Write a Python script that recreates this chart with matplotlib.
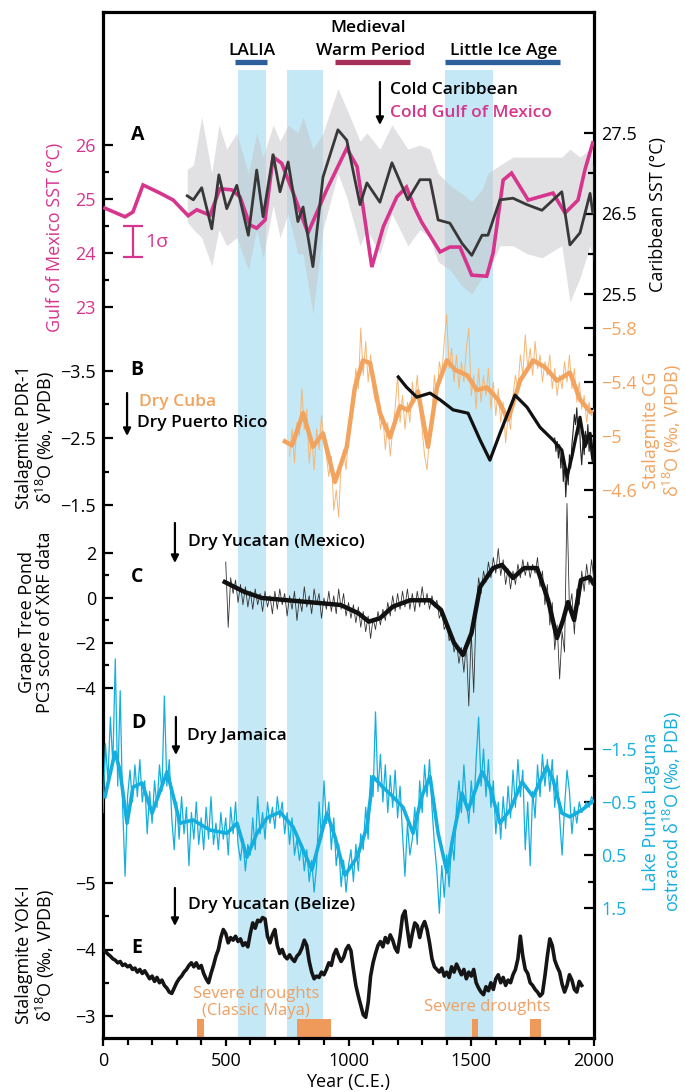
import numpy as np
import matplotlib
matplotlib.use('Agg')
import matplotlib.pyplot as plt

plt.rcParams['font.family'] = ['Open Sans', 'DejaVu Sans']
plt.rcParams['mathtext.fontset'] = 'custom'
plt.rcParams['mathtext.rm'] = 'Open Sans'

# shaded intervals, named periods and drought episodes (years C.E.)
bands = [(550, 665), (750, 895), (1395, 1590)]
periods = ['LALIA', 'Medieval\nWarm Period', 'Little Ice Age']
period_spans = [(538, 668), (945, 1250), (1393, 1862)]
period_colors = ['#2d5f9c', '#a5315a', '#2d5f9c']
droughts = [(381, 412), (790, 927), (1502, 1528), (1738, 1786)]

# A: Gulf of Mexico SST and Caribbean SST
gom_years = [8, 90, 122, 163, 232, 286, 347, 382, 436, 476, 524, 558, 598, 626, 660, 693, 728, 775, 835, 911,
             993, 1035, 1095, 1142, 1197, 1236, 1270, 1298, 1373, 1413, 1454, 1502, 1563, 1589, 1630, 1664,
             1732, 1833, 1882, 1935, 1963, 1995]
gom_sst = [24.83, 24.67, 24.76, 25.26, 25.11, 24.98, 24.69, 24.80, 24.70, 25.19, 25.17, 25.04, 24.52, 24.46,
           24.61, 25.78, 25.66, 25.11, 24.37, 25.17, 25.94, 25.60, 23.74, 24.49, 25.04, 25.22, 24.83, 24.57,
           24.02, 24.11, 24.11, 23.59, 23.57, 24.00, 25.35, 25.48, 24.98, 25.11, 24.74, 24.98, 25.54, 26.04]
car_years = [343, 368, 402, 443, 472, 504, 545, 592, 626, 652, 693, 721, 754, 794, 815, 855, 896, 957, 993,
             1047, 1075, 1128, 1177, 1242, 1291, 1332, 1365, 1413, 1462, 1502, 1544, 1568, 1617, 1670, 1727,
             1788, 1869, 1902, 1943, 1984, 1995]
car_sst = [26.72, 26.67, 26.82, 26.31, 26.98, 26.56, 26.85, 26.23, 27.04, 26.46, 27.23, 26.77, 27.14, 26.40,
           26.58, 25.84, 26.95, 27.54, 27.41, 26.61, 26.88, 26.64, 27.13, 26.67, 26.92, 26.92, 26.42, 26.38,
           26.13, 25.98, 26.23, 26.23, 26.67, 26.69, 26.61, 26.54, 26.77, 26.11, 26.26, 26.75, 26.51]
car_hi = [27.05, 27.1, 27.7, 27.0, 27.6, 27.3, 27.5, 27.0, 27.5, 27.2, 27.6, 27.4, 27.6, 27.5, 27.7, 27.3,
          27.5, 28.05, 27.8, 27.4, 27.5, 27.3, 27.6, 27.3, 27.35, 27.3, 27.0, 26.85, 26.75, 26.65, 26.8, 27.0,
          27.1, 27.2, 27.2, 27.2, 27.2, 27.3, 27.2, 27.3, 27.1]
car_lo = [26.4, 26.3, 26.2, 25.85, 26.3, 26.1, 26.2, 25.8, 26.3, 25.95, 26.6, 26.2, 26.5, 26.0, 26.0, 25.25,
          26.3, 27.0, 26.7, 26.1, 26.3, 26.0, 26.5, 26.1, 26.3, 26.2, 25.9, 25.8, 25.6, 25.5, 25.7, 25.75,
          26.1, 26.1, 26.0, 25.95, 26.1, 25.4, 25.7, 26.1, 25.9]

# B: Cuba (CG) and Puerto Rico (PDR-1) stalagmites
cg_years = [741, 770, 815, 855, 896, 945, 993, 1026, 1059, 1088, 1128, 1169, 1210, 1242, 1283, 1324, 1360,
            1401, 1434, 1483, 1523, 1564, 1609, 1650, 1699, 1752, 1800, 1849, 1902, 1943, 1984]
cg_smooth = [-4.96, -4.93, -5.17, -4.92, -5.02, -4.66, -4.92, -5.36, -5.56, -5.54, -5.17, -4.99, -5.22,
             -5.19, -5.33, -4.92, -5.36, -5.56, -5.49, -5.45, -5.34, -5.36, -5.27, -5.12, -5.41, -5.56,
             -5.51, -5.41, -5.47, -5.27, -5.18]
cg_start = 760
cg_raw = [-4.85, -5.05, -4.80, -5.10, -5.00, -5.35, -5.05, -5.20, -4.80, -5.00, -4.75, -5.05, -4.90, -5.15,
          -4.95, -4.85, -4.70, -4.85, -4.45, -4.60, -4.40, -4.80, -4.90, -4.75, -5.00, -5.15, -5.30, -5.50,
          -5.35, -5.80, -5.45, -5.70, -5.40, -5.60, -5.35, -5.25, -5.30, -5.05, -5.15, -4.90, -5.10, -4.85,
          -5.05, -5.20, -5.45, -5.10, -5.30, -5.05, -5.25, -5.10, -5.40, -5.25, -5.45, -5.20, -5.05, -4.85,
          -4.75, -5.00, -5.15, -5.45, -5.25, -5.55, -5.45, -5.70, -5.90, -5.50, -5.65, -5.40, -5.60, -5.35,
          -5.55, -5.40, -5.65, -5.80, -5.30, -5.45, -5.20, -5.50, -5.25, -5.45, -5.30, -5.50, -5.20, -5.40,
          -5.15, -5.35, -5.10, -5.25, -4.95, -5.15, -5.05, -5.30, -5.45, -5.35, -5.60, -5.45, -5.75, -5.50,
          -5.65, -5.45, -5.70, -5.50, -5.60, -5.40, -5.55, -5.45, -5.60, -5.35, -5.50, -5.30, -5.45, -5.35,
          -5.55, -5.40, -5.60, -5.35, -5.50, -5.25, -5.40, -5.20, -5.30, -5.10, -5.25, -5.15, -5.20]
pdr_years = [1203, 1236, 1278, 1332, 1373, 1426, 1487, 1536, 1576, 1617, 1678, 1727, 1780, 1833, 1869, 1890,
             1910, 1943, 1963, 1984, 1996]
pdr_smooth = [-3.41, -3.26, -3.11, -3.17, -3.07, -2.92, -2.87, -2.47, -2.17, -2.57, -3.14, -2.96, -2.66,
              -2.47, -2.32, -1.92, -2.22, -2.81, -2.37, -2.57, -2.17]
pdr_start = 1840
pdr_raw = [-2.50, -2.30, -2.45, -2.20, -2.40, -2.05, -2.30, -1.85, -2.15, -1.62, -2.00, -1.80, -2.25, -2.05,
           -2.40, -2.60, -2.85, -2.70, -2.95, -2.55, -2.80, -2.35, -2.10, -2.45, -2.25, -2.60, -2.40, -2.70,
           -2.30, -2.50, -2.20, -2.35, -2.15]

# C: Grape Tree Pond PC3
c_years = [496, 576, 648, 825, 968, 1039, 1083, 1128, 1181, 1251, 1332, 1377, 1430, 1466, 1501, 1536, 1589,
           1625, 1670, 1715, 1768, 1813, 1849, 1874, 1894, 1919, 1947, 1982, 1996]
c_smooth = [0.71, 0.27, 0.0, -0.17, -0.31, -0.67, -1.05, -0.9, -0.38, -0.1, -0.1, -0.53, -2.0, -2.53, -1.56,
            0.49, 1.33, 1.47, 0.89, 1.33, 1.33, -0.09, -1.78, -0.98, -0.18, -0.98, 0.8, 0.93, 0.67]
c_start = 500
c_raw = [1.6, -1.3, 0.9, 0.2, 0.8, -0.2, 0.6, -0.3, 0.5, -0.4, 0.3, -0.5, 0.4, -0.3, 0.2, -0.6, 0.3, -0.4,
         0.1, -0.7, 0.3, -0.5, 0.4, -0.3, 0.2, -0.8, 0.1, -0.5, 0.3, -1.0, 0.0, -0.6, 0.5, -0.4, 0.1, -0.7,
         0.4, -0.3, 0.2, -0.9, 0.0, -0.5, 0.3, -0.6, 0.1, -0.7, 0.4, -0.5, 0.2, -0.8, -0.2, -0.9, -0.3, -1.1,
         -0.4, -1.3, -0.6, -1.5, -0.8, -1.8, -0.9, -1.4, -0.6, -1.2, -0.5, -1.0, -0.2, -0.8, 0.1, -0.6, 0.2,
         -0.5, 0.3, -0.4, 0.4, -0.5, 0.2, -0.6, 0.3, -0.4, 0.5, -0.3, 0.2, -0.5, 0.1, -0.4, -0.1, -0.9, -0.6,
         -1.4, -1.1, -1.9, -1.6, -2.4, -2.0, -2.9, -2.2, -3.3, -2.0, -4.8, -1.5, -4.2, -0.5, 0.9, 0.2, 1.2,
         0.7, 1.6, 0.9, 1.8, 1.1, 2.2, 1.0, 1.7, 0.6, 1.3, 0.4, 1.2, 0.6, 1.5, 0.9, 1.7, 1.0, 1.6, 0.9, 1.5,
         1.1, 1.8, 0.5, 1.2, -0.3, 0.6, -1.2, -0.2, -2.3, -1.2, -3.6, -1.5, -2.4, 4.2, -0.5, 0.2, -1.6, 0.4,
         -0.3, 1.2, 0.3, 1.5, 0.6, 1.7, 0.8]

# D: Lake Punta Laguna ostracods
d_years = [8, 49, 69, 98, 122, 159, 200, 261, 314, 367, 436, 505, 546, 586, 627, 668, 721, 774, 851, 912,
           945, 986, 1035, 1075, 1100, 1140, 1181, 1222, 1263, 1298, 1332, 1365, 1401, 1426, 1462, 1487, 1544,
           1576, 1617, 1658, 1707, 1752, 1808, 1833, 1869, 1902, 1951, 1992]
d_smooth = [-0.6, -1.44, -1.1, -0.1, -0.78, -0.86, -0.29, -1.07, -0.1, -0.16, 0.03, 0.09, -0.1, 0.54, 0.09,
            -0.2, -0.31, -0.03, 0.78, -0.29, 0.16, 0.88, 0.54, -0.03, -0.98, -0.78, -0.6, -0.4, 0.09, -0.6,
            -0.98, 0.09, 0.82, 0.16, -0.67, -0.35, -1.07, -0.78, -0.1, -0.35, -0.88, -0.6, -1.17, -0.92,
            -0.29, -0.22, -0.35, -0.5]
d_start = 0
d_raw = [-0.3, -1.6, -0.9, -2.1, -1.2, -3.2, -0.8, -2.6, -0.4, 0.9, -0.6, -1.1, -0.5, -1.2, -0.6, -1.3,
         -0.5, -0.9, 0.1, -0.7, -0.1, -0.9, -0.4, -1.2, -0.7, -2.5, -0.8, -1.3, -0.2, 0.4, -0.5, 0.2, -0.6,
         0.1, -0.4, 0.7, -0.3, 0.2, -0.5, 0.3, -0.2, 0.4, -0.4, 0.2, -0.6, 0.3, -0.1, 0.4, -0.3, 0.2, -0.2,
         0.5, -0.4, 0.1, -0.5, 0.3, 0.6, 0.2, 0.8, 0.3, 0.5, -0.2, 0.4, -0.6, 0.1, -0.3, 0.2, -0.5, -0.1,
         -0.4, 0.0, -0.6, -0.2, -0.5, 0.1, -0.3, 0.3, -0.2, 0.5, 0.2, 0.6, 0.3, 0.8, 0.4, 1.0, 0.6, 1.2, 0.7,
         -0.5, 0.2, -0.9, -0.1, -0.5, 0.4, -0.2, 0.7, 0.3, 1.1, 0.6, 1.2, 0.7, 0.4, 1.0, 0.3, 0.8, 0.1, 0.4,
         -0.4, 0.2, -1.0, -0.6, -2.2, -0.7, -1.4, -0.5, -1.2, -0.3, -1.0, -0.4, -1.1, -0.2, -0.8, 0.1, 0.9,
         -0.1, 0.5, 0.2, -0.4, 0.3, -0.9, -0.3, -1.2, -0.6, -1.3, -0.4, 0.3, 0.8, 1.6, 0.7, 1.3, 0.5, 1.1,
         0.2, 0.6, -0.4, -0.9, -0.3, -1.2, -0.5, -0.1, -0.9, -0.3, -1.3, -2.1, -0.8, -1.5, -0.6, -1.3, -0.4,
         -0.9, 0.1, -0.5, 0.2, -0.6, 0.0, -0.8, -0.2, -1.1, -0.4, -1.3, -0.6, -1.1, 0.4, -0.5, 0.7, -0.7,
         -0.2, -1.2, -0.6, -1.4, -0.8, -1.3, -0.7, -1.3, -0.4, -1.0, -0.2, 0.5, -0.4, -1.1, -0.7, 0.1, -0.4,
         -0.1, -0.5, -0.3, -0.4, -0.5, -0.4, -0.6, -0.5]

# E: Belize stalagmite YOK-I
e_start = 0
e_vals = [-4.00, -3.97, -3.93, -3.90, -3.86, -3.84, -3.80, -3.82, -3.76, -3.78, -3.74, -3.76, -3.70, -3.72,
          -3.66, -3.70, -3.64, -3.68, -3.62, -3.56, -3.60, -3.52, -3.58, -3.50, -3.54, -3.46, -3.42, -3.36,
          -3.34, -3.42, -3.50, -3.56, -3.60, -3.66, -3.70, -3.76, -3.80, -3.74, -3.80, -3.72, -3.76, -3.64,
          -3.56, -3.50, -3.64, -3.76, -3.90, -4.00, -4.18, -4.30, -4.24, -4.10, -4.18, -4.14, -4.20, -4.12,
          -4.16, -4.06, -4.10, -4.04, -4.24, -4.40, -4.32, -4.44, -4.42, -4.48, -4.46, -4.20, -4.10, -4.22,
          -4.30, -4.06, -3.94, -4.00, -3.90, -3.86, -3.92, -3.86, -3.82, -3.90, -3.94, -4.02, -4.14, -4.06,
          -3.82, -3.66, -3.56, -3.60, -3.58, -3.66, -3.62, -3.70, -3.80, -3.76, -3.92, -4.00, -3.90, -3.82,
          -3.88, -4.00, -4.06, -3.98, -3.70, -3.46, -3.30, -3.16, -3.02, -2.98, -3.20, -3.60, -3.80, -3.94,
          -4.06, -4.12, -4.04, -4.18, -4.10, -4.22, -4.14, -4.02, -3.96, -4.20, -4.50, -4.58, -4.30, -4.04,
          -4.24, -4.40, -4.36, -4.18, -4.34, -4.42, -4.30, -4.10, -3.86, -3.74, -3.70, -3.66, -3.72, -3.60,
          -3.66, -3.58, -3.74, -3.66, -3.78, -3.70, -3.62, -3.70, -3.56, -3.66, -3.60, -3.70, -3.50, -3.42,
          -3.36, -3.32, -3.44, -3.38, -3.50, -3.40, -3.56, -3.62, -3.50, -3.58, -3.46, -3.54, -3.50, -3.62,
          -3.70, -3.86, -4.20, -3.90, -3.70, -3.64, -3.50, -3.46, -3.40, -3.36, -3.30, -3.34, -3.60, -3.90,
          -4.16, -4.06, -3.84, -3.74, -3.66, -3.48, -3.36, -3.46, -3.62, -3.54, -3.40, -3.36, -3.52, -3.46]

# tick values and labels of each panel axis
gom_ticks, gom_labels, gom_minor = [23, 24, 25, 26], ['23', '24', '25', '26'], [23.5, 24.5, 25.5]
car_ticks, car_labels, car_minor = [25.5, 26.5, 27.5], ['25.5', '26.5', '27.5'], [26, 27]
pdr_ticks, pdr_labels, pdr_minor = [-3.5, -2.5, -1.5], ['\u22123.5', '\u22122.5', '\u22121.5'], [-3, -2]
cg_ticks = [-5.8, -5.4, -5.0, -4.6]
cg_labels = ['\u22125.8', '\u22125.4', '\u22125', '\u22124.6']
cg_minor = [-5.6, -5.2, -4.8, -4.4]
c_ticks, c_labels, c_minor = [2, 0, -2, -4], ['2', '0', '\u22122', '\u22124'], [1, -1, -3]
d_ticks, d_labels, d_minor = [-1.5, -0.5, 0.5, 1.5], ['\u22121.5', '\u22120.5', '0.5', '1.5'], [-1, 0, 1]
e_ticks, e_labels, e_minor = [-5, -4, -3], ['\u22125', '\u22124', '\u22123'], [-4.5, -3.5]

PINK = '#d7358d'
DARK = '#383838'
ORANGE = '#f2a35e'
CYAN = '#14aedf'
BLUE_BAND = '#c4e8f5'

# layout in pixels of the 685x1092 canvas
W, H = 685, 1092
L, R, T, B = 103, 594, 12, 1038
rect = [L / W, 1 - B / H, (R - L) / W, (B - T) / H]

fig = plt.figure(figsize=(W / 100, H / 100), dpi=100)
ax = fig.add_axes(rect, zorder=0)
ax.set_xlim(0, 2000)
ax.set_ylim(B, T)  # base axes works in pixel rows
for sp in ax.spines.values():
    sp.set_linewidth(2.3)
ax.set_xticks([0, 500, 1000, 1500, 2000])
ax.set_xticks(np.arange(0, 2001, 100), minor=True)
ax.tick_params(axis='x', which='both', direction='out', width=1.6, labelsize=13, pad=4)
ax.tick_params(axis='x', which='major', length=6)
ax.tick_params(axis='x', which='minor', length=5)
ax.tick_params(axis='y', which='both', left=False, labelleft=False)
ax.set_xlabel('Year (C.E.)', fontsize=13, labelpad=2)

for a0, a1 in bands:
    ax.axvspan(a0, a1, ymin=0, ymax=(B - 70) / (B - T), color=BLUE_BAND, lw=0)
for (a0, a1), c in zip(period_spans, period_colors):
    ax.hlines(62, a0, a1, colors=c, lw=3.8)
ax.bar([d[0] for d in droughts], 19, width=[d[1] - d[0] for d in droughts], bottom=B - 19,
       align='edge', color='#ef9a5a', lw=0)


def panel(z, side, ref, ticks, labels, minor, color):
    a = fig.add_axes(rect, sharex=ax, zorder=z)
    a.patch.set_visible(False)
    for sp in a.spines.values():
        sp.set_visible(False)
    (v1, p1), (v2, p2) = ref
    s = (p2 - p1) / (v2 - v1)
    a.set_ylim(v1 + (B - p1) / s, v1 + (T - p1) / s)
    a.yaxis.set_ticks_position(side)
    if ticks:
        a.set_yticks(ticks, labels=labels)
        a.set_yticks(minor, minor=True)
    else:
        a.set_yticks([])
    a.tick_params(axis='y', which='both', direction='in', width=1.6, color='k',
                  labelcolor=color, labelsize=13, pad=5)
    a.tick_params(axis='y', which='major', length=7)
    a.tick_params(axis='y', which='minor', length=4.5)
    a.tick_params(axis='x', which='both', bottom=False, top=False, labelbottom=False)
    return a


car_ref = ((27.5, 133), (25.5, 294))
ax_env = panel(1, 'right', car_ref, [], [], [], 'k')
ax_env.fill_between(car_years, car_lo, car_hi, color='#c4c4c8', alpha=0.5, lw=0)

ax_gom = panel(2, 'left', ((26, 145), (23, 307)), gom_ticks, gom_labels, gom_minor, PINK)
ax_gom.plot(gom_years, gom_sst, color=PINK, lw=2.6, solid_joinstyle='miter')
ax_gom.vlines(122, 23.93, 24.5, colors=PINK, lw=1.6)
ax_gom.hlines([23.93, 24.5], 81, 163, colors=PINK, lw=1.6)
ax_gom.text(172, 24.2, '1\u03c3', color=PINK, fontsize=14, va='center', ha='left')

ax_car = panel(3, 'right', car_ref, car_ticks, car_labels, car_minor, 'k')
ax_car.plot(car_years, car_sst, color=DARK, lw=2.0)

ax_cg = panel(4, 'right', ((-5.8, 328), (-4.6, 490)), cg_ticks, cg_labels, cg_minor, ORANGE)
cg_raw_years = cg_start + 10 * np.arange(len(cg_raw))
ax_cg.plot(cg_raw_years, cg_raw, color='#f5b676', lw=0.7)
ax_cg.plot(cg_years, cg_smooth, color=ORANGE, lw=3.2)

ax_pdr = panel(5, 'left', ((-3.5, 371), (-1.5, 505)), pdr_ticks, pdr_labels, pdr_minor, 'k')
pdr_raw_years = pdr_start + 5 * np.arange(len(pdr_raw))
ax_pdr.plot(pdr_raw_years, pdr_raw, color='#222222', lw=0.8)
ax_pdr.plot(pdr_years, pdr_smooth, color='#111111', lw=2.3)

ax_c = panel(6, 'left', ((2, 553), (-4, 688)), c_ticks, c_labels, c_minor, 'k')
c_raw_years = c_start + 10 * np.arange(len(c_raw))
ax_c.plot(c_raw_years, c_raw, color='#333333', lw=0.6)
ax_c.plot(c_years, c_smooth, color='#111111', lw=3.2)

ax_d = panel(7, 'right', ((-1.5, 749), (1.5, 908)), d_ticks, d_labels, d_minor, CYAN)
d_raw_years = d_start + 10 * np.arange(len(d_raw))
ax_d.plot(d_raw_years, d_raw, color=CYAN, lw=0.9)
ax_d.plot(d_years, d_smooth, color=CYAN, lw=2.6)

ax_e = panel(8, 'left', ((-5, 883), (-3, 1016)), e_ticks, e_labels, e_minor, 'k')
e_years = e_start + 10 * np.arange(len(e_vals))
ax_e.plot(e_years, e_vals, color='#151515', lw=2.6)

# annotations, placed on a top layer working in (year, pixel row)
top = fig.add_axes(rect, sharex=ax, sharey=ax, zorder=10)
top.patch.set_visible(False)
top.axis('off')

bold = dict(fontsize=12.5, fontweight='semibold', va='center')
top.text(605, 51, periods[0], ha='center', **bold)
top.text(1082, 28, periods[1].split('\n')[0], ha='center', **bold)
top.text(1088, 51, periods[1].split('\n')[1], ha='center', **bold)
top.text(1634, 51, periods[2], ha='center', **bold)

arrow = dict(arrowstyle='-|>', color='k', lw=1.6, mutation_scale=11, shrinkA=0, shrinkB=0)
for yr, y0, y1 in [(1128, 82, 125), (98, 393, 436), (293, 523, 563), (297, 717, 755), (293, 888, 926)]:
    top.annotate('', xy=(yr, y1), xytext=(yr, y0), arrowprops=arrow)

top.text(1169, 90, 'Cold Caribbean', ha='left', color='k', **bold)
top.text(1169, 113, 'Cold Gulf of Mexico', ha='left', color=PINK, **bold)
top.text(147, 402, 'Dry Cuba', ha='left', color=ORANGE, **bold)
top.text(138, 423, 'Dry Puerto Rico', ha='left', color='k', **bold)
top.text(346, 542, 'Dry Yucatan (Mexico)', ha='left', color='k', **bold)
top.text(342, 736, 'Dry Jamaica', ha='left', color='k', **bold)
top.text(346, 905, 'Dry Yucatan (Belize)', ha='left', color='k', **bold)

for letter, yr, y in [('A', 143, 135), ('B', 138, 370), ('C', 138, 577), ('D', 143, 723), ('E', 138, 948)]:
    top.text(yr, y, letter, fontsize=14, fontweight='bold', ha='center', va='center')

drought_txt = dict(color='#f0a062', fontsize=12, ha='center', va='center')
top.text(624, 994, 'Severe droughts', **drought_txt)
top.text(624, 1011, '(Classic Maya)', **drought_txt)
top.text(1564, 1007, 'Severe droughts', **drought_txt)

# axis titles
def ylab(x, y, s, color):
    fig.text(x / W, 1 - y / H, s, rotation=90, ha='center', va='center', color=color,
             fontsize=13, multialignment='center', linespacing=1.05)


ylab(55, 237, 'Gulf of Mexico SST (\u00b0C)', PINK)
ylab(658, 215, 'Caribbean SST (\u00b0C)', 'k')
ylab(36, 437, 'Stalagmite PDR-1\n\u03b4$^{18}$O (\u2030, VPDB)', 'k')
ylab(663, 430, 'Stalagmite CG\n\u03b4$^{18}$O (\u2030, VPDB)', ORANGE)
ylab(36, 622, 'Grape Tree Pond\nPC3 score of XRF data', 'k')
ylab(663, 812, 'Lake Punta Laguna\nostracod \u03b4$^{18}$O (\u2030, PDB)', CYAN)
ylab(36, 955, 'Stalagmite YOK-I\n\u03b4$^{18}$O (\u2030, VPDB)', 'k')

fig.savefig('out.png', dpi=100)
